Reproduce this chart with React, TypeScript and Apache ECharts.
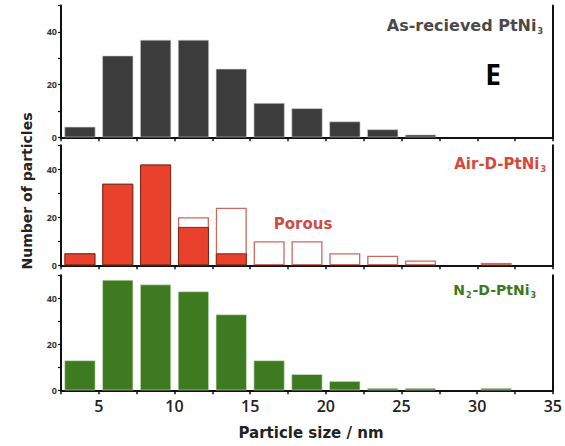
import React, { useEffect, useRef } from "react";
import * as echarts from "echarts";

const binCenters = [3.75, 6.25, 8.75, 11.25, 13.75, 16.25, 18.75, 21.25, 23.75, 26.25, 28.75, 31.25, 33.75];
const asReceived = [4, 31, 37, 37, 26, 13, 11, 6, 3, 1, 0, 0, 0];
const airDSolid = [5, 34, 42, 16, 5, 0, 0, 0, 0, 0, 0, 0, 0];
const airDPorous = [5, 34, 42, 20, 24, 10, 10, 5, 4, 2, 0, 1, 0];
const n2D = [13, 48, 46, 43, 33, 13, 7, 4, 1, 1, 0, 1, 0];
const yTickLabels = [0, 20, 40];
const xTickLabels = [5, 10, 15, 20, 25, 30, 35];

const FONT = "Open Sans";
const WIDE = "DejaVu Sans";

function pairs(vals: number[]) {
  return binCenters
    .map((c, i) => [c, vals[i]])
    .filter((p) => p[1] > 0);
}

export default function App() {
  const ref = useRef<HTMLDivElement>(null);
  useEffect(() => {
    if (!ref.current) return;
    const chart = echarts.init(ref.current, null, { renderer: "svg" });
    const grids = [
      { left: 61, right: 12, top: 5.6, height: 131.7 },
      { left: 61, right: 12, top: 145.3, height: 120 },
      { left: 61, right: 12, top: 275.3, height: 115 },
    ];
    const axisLine = { show: true, lineStyle: { color: "#111", width: 2 } };
    const xAxes: any[] = grids.map((_, i) => ({
      type: "value",
      gridIndex: i,
      min: 2.5,
      max: 35,
      interval: 2.5,
      splitLine: { show: false },
      axisLine,
      axisTick: { show: true, inside: false, length: 4, lineStyle: { color: "#111", width: 1.5 } },
      axisLabel: {
        show: i === 2,
        fontFamily: FONT,
        fontWeight: 600,
        fontSize: 16,
        color: "#222",
        margin: 8,
        formatter: (v: number) => (xTickLabels.indexOf(v) >= 0 ? String(v) : ""),
      },
    }));
    xAxes.push({
      type: "value",
      gridIndex: 0,
      position: "top",
      min: 2.5,
      max: 35,
      axisLine,
      axisTick: { show: false },
      axisLabel: { show: false },
      splitLine: { show: false },
    });
    const yAxes: any[] = [];
    grids.forEach((_, i) => {
      yAxes.push({
        type: "value",
        gridIndex: i,
        min: 0,
        max: 50,
        interval: 10,
        splitLine: { show: false },
        axisLine,
        axisTick: { show: true, length: 3, lineStyle: { color: "#111", width: 1.2 } },
        axisLabel: {
          fontFamily: FONT,
          fontWeight: "bold",
          fontSize: 9,
          color: "#333",
          margin: 4,
          formatter: (v: number) => (yTickLabels.indexOf(v) >= 0 ? String(v) : ""),
        },
      });
      yAxes.push({
        type: "value",
        gridIndex: i,
        position: "right",
        min: 0,
        max: 50,
        splitLine: { show: false },
        axisLine,
        axisTick: { show: false },
        axisLabel: { show: false },
      });
    });
    const barW = 31;
    chart.setOption({
      animation: false,
      grid: grids,
      xAxis: xAxes,
      yAxis: yAxes,
      series: [
        {
          type: "bar",
          xAxisIndex: 0,
          yAxisIndex: 0,
          barWidth: barW,
          data: pairs(asReceived),
          itemStyle: { color: "#3c3c3c", borderColor: "#cfcfcf", borderWidth: 0.6 },
        },
        {
          type: "bar",
          xAxisIndex: 1,
          yAxisIndex: 2,
          barWidth: barW,
          barGap: "-100%",
          data: pairs(airDPorous),
          itemStyle: { color: "#ffffff", borderColor: "#c96a60", borderWidth: 1.3 },
        },
        {
          type: "bar",
          xAxisIndex: 1,
          yAxisIndex: 2,
          barWidth: barW,
          barGap: "-100%",
          data: pairs(airDSolid),
          itemStyle: { color: "#e8412c", borderColor: "#7a2418", borderWidth: 1 },
        },
        {
          type: "bar",
          xAxisIndex: 2,
          yAxisIndex: 4,
          barWidth: barW,
          data: pairs(n2D),
          itemStyle: { color: "#3e7a20", borderColor: "#d8e8d0", borderWidth: 0.6 },
        },
      ],
      graphic: [
        {
          type: "text",
          x: 543,
          y: 25,
          style: {
            text: "{a|As-recieved PtNi}{s|3}",
            align: "right",
            verticalAlign: "middle",
            rich: {
              a: { fontFamily: WIDE, fontWeight: "bold", fontSize: 16, fill: "#4a4a4a" },
              s: { fontFamily: WIDE, fontWeight: "bold", fontSize: 8, fill: "#4a4a4a", padding: [12, 0, 0, 1] },
            },
          },
        },
        {
          type: "text",
          x: 493,
          y: 74,
          style: {
            text: "E",
            align: "center",
            verticalAlign: "middle",
            fontFamily: FONT,
            fontWeight: "bold",
            fontSize: 28,
            fill: "#000",
          },
        },
        {
          type: "text",
          x: 546,
          y: 164,
          style: {
            text: "{a|Air-D-PtNi}{s|3}",
            align: "right",
            verticalAlign: "middle",
            rich: {
              a: { fontFamily: WIDE, fontWeight: "bold", fontSize: 15, fill: "#d9473a" },
              s: { fontFamily: WIDE, fontWeight: "bold", fontSize: 8, fill: "#d9473a", padding: [10, 0, 0, 1] },
            },
          },
        },
        {
          type: "text",
          x: 303,
          y: 224,
          style: {
            text: "Porous",
            align: "center",
            verticalAlign: "middle",
            fontFamily: WIDE,
            fontWeight: "bold",
            fontSize: 15,
            fill: "#cf4c40",
          },
        },
        {
          type: "text",
          x: 537,
          y: 290,
          style: {
            text: "{a|N}{s|2}{a|-D-PtNi}{s|3}",
            align: "right",
            verticalAlign: "middle",
            rich: {
              a: { fontFamily: WIDE, fontWeight: "bold", fontSize: 14, fill: "#3c7a22" },
              s: { fontFamily: WIDE, fontWeight: "bold", fontSize: 8, fill: "#3c7a22", padding: [10, 1, 0, 1] },
            },
          },
        },
        {
          type: "text",
          x: 27,
          y: 191,
          rotation: Math.PI / 2,
          style: {
            text: "Number of particles",
            align: "center",
            verticalAlign: "middle",
            fontFamily: WIDE,
            fontWeight: "bold",
            fontSize: 14,
            fill: "#222",
          },
        },
        {
          type: "text",
          x: 311,
          y: 433,
          style: {
            text: "Particle size / nm",
            align: "center",
            verticalAlign: "middle",
            fontFamily: WIDE,
            fontWeight: "bold",
            fontSize: 15,
            fill: "#222",
          },
        },
      ],
    });
    return () => chart.dispose();
  }, []);
  return (
    <div
      ref={ref}
      style={{ position: "fixed", left: 0, top: 0, width: 565, height: 446, background: "#fff" }}
    />
  );
}
